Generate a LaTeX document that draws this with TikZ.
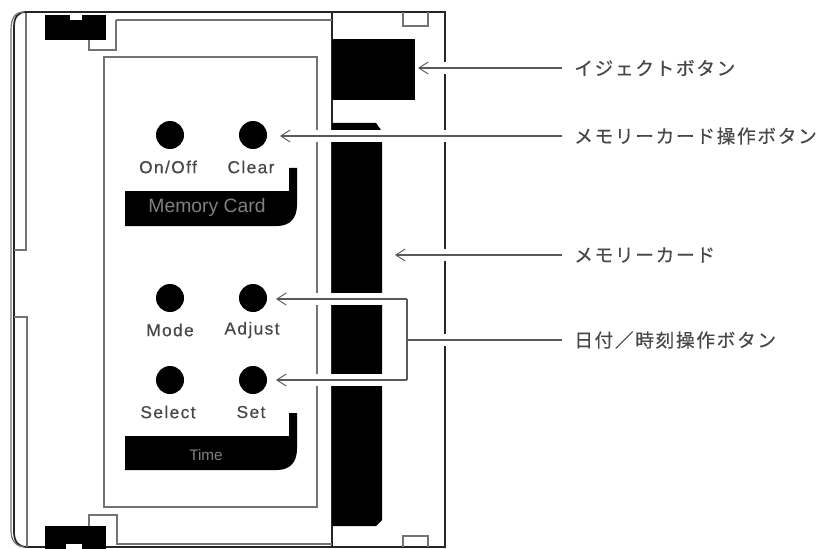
\documentclass[tikz,border=0pt]{standalone}
\usepackage{fontspec}
\setmainfont{Liberation Sans}
\newfontfamily\cjk[LetterSpace=9,FakeBold=0.3]{Noto Sans CJK JP}
\newfontfamily\keyfont[LetterSpace=8,FakeBold=0.5]{Liberation Sans}
\usetikzlibrary{arrows.meta}
\tikzset{
  x=0.75pt,y=-0.75pt,
  body/.style={line width=1.3pt,black!85},
  thin line/.style={line width=0.9pt,black!55},
  btn/.style={circle,fill=black,minimum size=21pt,inner sep=0pt},
  key/.style={font=\keyfont\fontsize{13}{15}\selectfont,text=black!72,inner sep=0pt},
  callout/.style={font=\cjk\fontsize{14}{16}\selectfont,text=black!72,anchor=west,inner sep=0pt},
  leader/.style={line width=0.8pt,black!65},
  halo/.style={line width=9pt,white},
  tipped/.style={-{Straight Barb[length=7pt,width=9pt,line width=0.7pt]}},
  band/.style={fill=black},
  tag/.style={inner sep=0pt,text=black!50}
}
\begin{document}
\begin{tikzpicture}
\useasboundingbox (0,0) rectangle (824,549);
\fill[white] (0,0) rectangle (824,549);
% housing
\draw[body] (445,548) -- (445,12) -- (26,12) .. controls (18,12) and (14,17) .. (14,27) -- (14,532) .. controls (14,542) and (19,547) .. (26,547) -- (445,547);
\draw[thin line] (26,13) -- (26,250) -- (14,250);
\draw[thin line] (14,317) -- (27,317) -- (27,547);
\draw[thin line] (24,12) .. controls (15,12) and (11,18) .. (11,30) -- (11,530) .. controls (11,540) and (15,546) .. (24,547);
\draw[body,line width=1pt] (332,12) -- (332,547);
\draw[thin line] (116,20) -- (116,50) -- (89,50) -- (89,38);
\draw[thin line] (116,20) -- (332,20);
\draw[thin line] (89,526) -- (89,515) -- (117,515) -- (117,544) -- (332,544);
\draw[thin line] (403,12) -- (403,26) -- (428,26) -- (428,12);
\draw[thin line] (403,547) -- (403,536) -- (428,536) -- (428,547);
% clips
\fill[black] (45,15) rectangle (106,40);
\fill[white] (70,15) rectangle (82,20);
\fill[black] (45,526) rectangle (106,549);
\fill[white] (66,544) rectangle (82,549);
% panel
\draw[thin line,line width=1.1pt] (104,57) rectangle (317,507);
% eject and card
\fill[black] (332,39) rectangle (415,100);
\fill[black] (332,123) -- (376,123) -- (381,130) -- (332,130) -- cycle;
\fill[black] (332,142) -- (382,142) -- (382,520) -- (376,526) -- (332,526) -- cycle;
% bands
\fill[band] (125,191) -- (289,191) -- (289,168) -- (297,168) -- (297,205) .. controls (297,218) and (290,226) .. (277,226) -- (125,226) -- cycle;
\fill[band] (125,436) -- (289,436) -- (289,413) -- (297,413) -- (297,449) .. controls (297,462) and (290,470) .. (277,470) -- (125,470) -- cycle;
\node[tag,font=\fontsize{14.5}{16}\selectfont] (bandA) at (207,208) {Memory Card};
\node[tag,font=\fontsize{11.5}{13}\selectfont] (bandB) at (206,455) {Time};
% buttons
\node[btn] (onoff) at (170,135) {};
\node[btn] (clear) at (253,135) {};
\node[btn] (mode) at (170,298) {};
\node[btn] (adjust) at (253,298) {};
\node[btn] (select) at (170,380) {};
\node[btn] (setb) at (253,380) {};
\node[key] (l1) at (168,167) {On/Off};
\node[key] (l2) at (251,167) {Clear};
\node[key] (l3) at (170,330) {Mode};
\node[key] (l4) at (252,330) {Adjust};
\node[key] (l5) at (168,412) {Select};
\node[key] (l6) at (251,412) {Set};
% callouts
\node[callout] (t1) at (574,68) {イジェクトボタン};
\node[callout] (t2) at (574,136) {メモリーカード操作ボタン};
\node[callout] (t3) at (574,255) {メモリーカード};
\node[callout] (t4) at (574,340) {日付／時刻操作ボタン};
\coordinate (a1) at (418,68);
\coordinate (a2) at (280,136);
\coordinate (a3) at (395,255);
\coordinate (b1) at (407,299);
\coordinate (b2) at (407,380);
\coordinate (bm) at (407,340);
\coordinate (a4) at (276,299);
\coordinate (a5) at (276,380);
% halos where leaders cross
\draw[halo] (438,68) -- (452,68);
\draw[halo] (285,136) -- (452,136);
\draw[halo] (438,255) -- (452,255);
\draw[halo] (438,340) -- (452,340);
\draw[halo] (305,299) -- (402,299);
\draw[halo] (305,380) -- (402,380);
% leaders
\draw[leader,tipped] (t1.west -| 562,68) -- (a1);
\draw[leader,tipped] (t2.west -| 562,136) -- (a2);
\draw[leader,tipped] (t3.west -| 562,255) -- (a3);
\draw[leader] (t4.west -| 562,340) -- (bm);
\draw[leader] (b1) -- (b2);
\draw[leader,tipped] (b1) -- (a4);
\draw[leader,tipped] (b2) -- (a5);
\end{tikzpicture}
\end{document}
